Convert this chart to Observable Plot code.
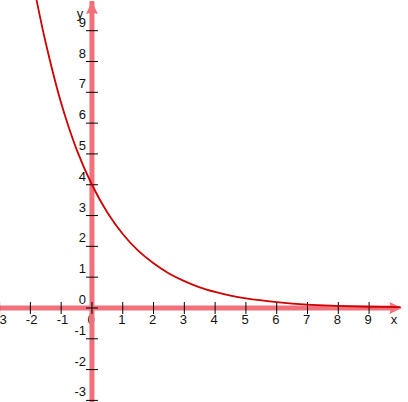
<!DOCTYPE html>
<html>
<head>
<meta charset="utf-8">
<script src="https://cdn.jsdelivr.net/npm/d3@7"></script>
<script src="https://cdn.jsdelivr.net/npm/@observablehq/plot@0.6"></script>
<style>
  html, body { margin: 0; padding: 0; background: #fff; }
  #chart svg { display: block; }
</style>
</head>
<body>
<div id="chart"></div>
<script>
// Curve points (y = decaying exponential)
const curveX = [-1.8, -1.5, -1, -0.5, 0, 0.5, 1, 1.5, 2, 2.5, 3, 3.5, 4, 4.5, 5, 6, 7, 8, 9, 10];
const curveY = [10.0, 8.6, 6.65, 5.15, 4.0, 3.1, 2.4, 1.86, 1.45, 1.12, 0.87, 0.67, 0.52, 0.40, 0.31, 0.19, 0.11, 0.07, 0.04, 0.025];

// Tick values and labels
const xTicks = [-3, -2, -1, 0, 1, 2, 3, 4, 5, 6, 7, 8, 9];
const xTickLabels = ["-3", "-2", "-1", "0", "1", "2", "3", "4", "5", "6", "7", "8", "9"];
const yTicks = [-3, -2, -1, 0, 1, 2, 3, 4, 5, 6, 7, 8, 9];
const yTickLabels = ["-3", "-2", "-1", "0", "1", "2", "3", "4", "5", "6", "7", "8", "9"];

// Axis extents
const xAxisRange = [-3.1, 10.07];
const yAxisRange = [-3.0, 9.95];
const axisNames = ["x", "y"];

const curve = curveX.map((x, i) => ({x, y: curveY[i]}));

const arrowHead = {
  draw(ctx) {
    ctx.moveTo(0, 0);
    ctx.lineTo(6, 12.5);
    ctx.lineTo(0, 11);
    ctx.lineTo(-6, 12.5);
    ctx.closePath();
  }
};
const tickSym = {
  draw(ctx) {
    ctx.moveTo(-6, 0);
    ctx.lineTo(6, 0);
  }
};

const axisColor = "#f2707a";
const font = "Liberation Sans, Arial, sans-serif";

const chart = Plot.plot({
  width: 408,
  height: 402,
  margin: 0,
  style: {background: "#fff", fontFamily: font},
  x: {domain: [-2.97, 10.28], axis: null},
  y: {domain: [-3.068, 9.98], axis: null},
  marks: [
    // tick labels
    Plot.text(xTicks, {x: d => d, y: 0, text: (d, i) => xTickLabels[i], textAnchor: "start", lineAnchor: "bottom", dx: -4.5, dy: 16, fontSize: 13, fill: "#111"}),
    Plot.text(yTicks, {x: 0, y: d => d, text: (d, i) => yTickLabels[i], textAnchor: "end", lineAnchor: "bottom", dy: -4, dx: -6, fontSize: 13, fill: "#111"}),
    // axis names
    Plot.text([axisNames[0]], {x: xAxisRange[1], y: 0, text: d => d, lineAnchor: "bottom", dx: -8, dy: 16, fontSize: 13, fill: "#111"}),
    Plot.text([axisNames[1]], {x: 0, y: yAxisRange[1], text: d => d, lineAnchor: "bottom", dx: -12, dy: 17, fontSize: 13, fill: "#111"}),
    // axis shafts
    Plot.ruleY([0], {x1: xAxisRange[0], x2: xAxisRange[1], stroke: axisColor, strokeWidth: 5, insetRight: 8}),
    Plot.ruleX([0], {y1: yAxisRange[0], y2: yAxisRange[1], stroke: axisColor, strokeWidth: 5, insetTop: 8}),
    // arrowheads
    Plot.dot([0], {x: 0, y: yAxisRange[1], symbol: arrowHead, fill: axisColor, stroke: "none"}),
    Plot.dot([0], {x: xAxisRange[1], y: 0, symbol: arrowHead, fill: axisColor, stroke: "none", rotate: 90}),
    // ticks
    Plot.dot(yTicks, {x: 0, y: d => d, symbol: tickSym, stroke: "#000", strokeWidth: 1, fill: "none"}),
    Plot.dot(xTicks, {x: d => d, y: 0, symbol: tickSym, stroke: "#000", strokeWidth: 1, fill: "none", rotate: 90}),
    // curve
    Plot.line(curve, {x: "x", y: "y", stroke: "#cc0000", strokeWidth: 1.8, curve: "catmull-rom", clip: true})
  ]
});
document.getElementById("chart").appendChild(chart);
</script>
</body>
</html>
